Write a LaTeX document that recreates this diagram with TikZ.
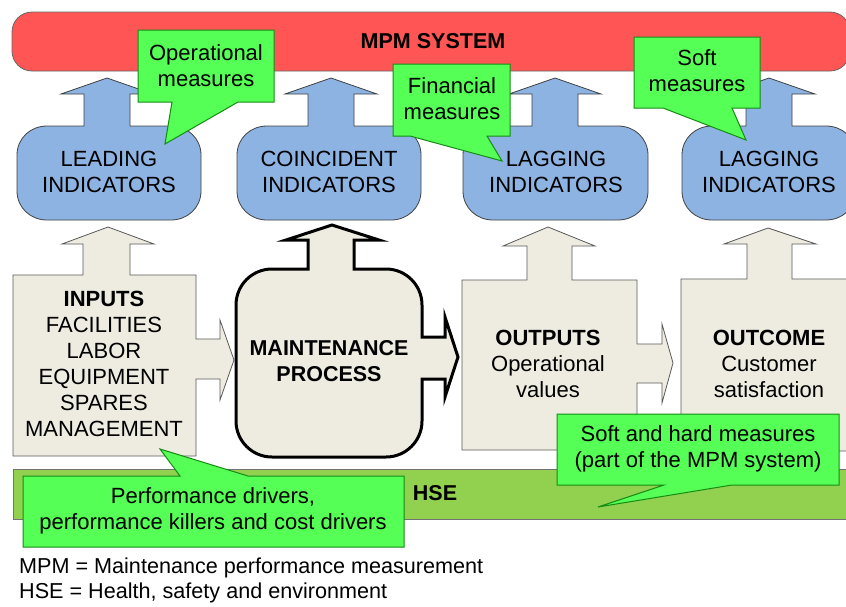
\documentclass[tikz,border=0pt]{standalone}
\usepackage{fontspec}
\setmainfont{Liberation Sans}
\usetikzlibrary{calc}

\definecolor{mpmred}{RGB}{255,85,85}
\definecolor{indicblue}{RGB}{141,179,226}
\definecolor{tanfill}{RGB}{238,236,225}
\definecolor{hsegreen}{RGB}{146,208,80}
\definecolor{notegreen}{RGB}{85,255,85}
\definecolor{noteline}{RGB}{20,140,20}

% indicator cloud with its arrow up to the MPM system
% #1 left, #2 right, #3 centre of the arrow
\newcommand{\indicatorshape}[3]{%
  \path[indic_shape] (#1,155) -- (#1,191)
    .. controls (#1,207.6) and (#1+13.4,220) .. (#1+30,220)
    -- (#2-30,220) .. controls (#2-13.4,220) and (#2,207.6) .. (#2,191)
    -- (#2,155) .. controls (#2,138.4) and (#2-13.4,126) .. (#2-30,126)
    -- (#3+23,126) -- (#3+23,94) -- (#3+46,94) -- (#3,78)
    -- (#3-46,94) -- (#3-23,94) -- (#3-23,126)
    -- (#1+30,126) .. controls (#1+13.4,126) and (#1,138.4) .. (#1,155) -- cycle;}

\begin{document}
\begin{tikzpicture}[x=1pt,y=-1pt,
    indic_shape/.style ={draw=black!75, fill=indicblue, line width=0.8pt},
    tan_shape/.style ={draw=black!65, fill=tanfill, line width=0.8pt},
    process_shape/.style ={draw=black, fill=tanfill, line width=3pt},
    bar_red/.style ={draw=black!60, fill=mpmred, line width=0.8pt, rounded corners=20pt},
    bar_green/.style ={draw=black!55, fill=hsegreen, line width=0.8pt},
    note_shape/.style ={draw=noteline, fill=notegreen, line width=1pt},
    block_text/.style ={align=center, inner sep=0pt,
      font=\fontsize{22}{26}\selectfont},
    block_bold/.style ={block_text, font=\fontsize{21.5}{26}\selectfont\bfseries},
    legend_text/.style ={anchor=west, inner sep=0pt,
      font=\fontsize{21.6}{25}\selectfont}]
    \useasboundingbox (0,0) rectangle (846,606);
    \clip (0,0) rectangle (846,606);

    % top and bottom bars
    \path[bar_red] (12,12) rectangle (850,71);
    \path[bar_green] (13,469) rectangle (860,519);

    % indicators
    \indicatorshape{17}{201}{107}
    \indicatorshape{237}{421}{331}
    \indicatorshape{463}{648}{555}
    \indicatorshape{682}{856}{769}

    % inputs, process, outputs, outcome
    \path[tan_shape] (13,275) -- (83,275) -- (83,244) -- (62,244) -- (108,227)
      -- (154,244) -- (130,244) -- (130,275) -- (196,275) -- (196,339)
      -- (220,339) -- (220,320) -- (234,360) -- (220,400) -- (220,379)
      -- (196,379) -- (196,456) -- (13,456) -- cycle;
    \path[process_shape] (236,305) -- (236,421)
      .. controls (236,440.9) and (252.1,457) .. (272,457) -- (386,457)
      .. controls (405.9,457) and (422,440.9) .. (422,421) -- (422,379)
      -- (445,379) -- (445,397) -- (458,357) -- (445,317) -- (445,337)
      -- (422,337) -- (422,305)
      .. controls (422,285.1) and (405.9,269) .. (386,269) -- (354,269)
      -- (354,240) -- (379,240) -- (332,225) -- (286,240) -- (308,240)
      -- (308,269) -- (272,269)
      .. controls (252.1,269) and (236,285.1) .. (236,305) -- cycle;
    \path[tan_shape] (462,280) -- (527,280) -- (527,246) -- (503,246) -- (548,227)
      -- (595,246) -- (572,246) -- (572,280) -- (637,280) -- (637,344)
      -- (662,344) -- (662,324) -- (673,363) -- (662,403) -- (662,383)
      -- (637,383) -- (637,450) -- (462,450) -- cycle;
    \path[tan_shape] (681,279) -- (747,279) -- (747,244) -- (724,244) -- (768,228)
      -- (816,244) -- (792,244) -- (792,279) -- (860,279) -- (860,451)
      -- (681,451) -- cycle;

    % texts
    \node[block_bold] (mpm_system) at (433,41) {MPM SYSTEM};
    \node[block_bold] (hse) at (435,493) {HSE};
    \node[block_text] (leading) at (109,172) {LEADING\\INDICATORS};
    \node[block_text] (coincident) at (329,172) {COINCIDENT\\INDICATORS};
    \node[block_text] (lagging_fin) at (556,172) {LAGGING\\INDICATORS};
    \node[block_text] (lagging_soft) at (769,172) {LAGGING\\INDICATORS};
    \node[block_text] (inputs) at (104,364) {\textbf{INPUTS}\\FACILITIES\\LABOR\\EQUIPMENT\\SPARES\\MANAGEMENT};
    \node[block_bold] (maintenance) at (329,361) {MAINTENANCE\\PROCESS};
    \node[block_text] (outputs) at (548,364) {\textbf{OUTPUTS}\\Operational\\values};
    \node[block_text] (outcome) at (769,364) {\textbf{OUTCOME}\\Customer\\satisfaction};

    % callouts
    \path[note_shape] (138,30) -- (274,30) -- (274,102) -- (238,102) -- (165,144)
      -- (172,102) -- (138,102) -- cycle;
    \node[block_text] (note_operational) at (206,66) {Operational\\measures};
    \path[note_shape] (393,64) -- (510,64) -- (510,136) -- (487,136) -- (502,161)
      -- (410,136) -- (393,136) -- cycle;
    \node[block_text] (note_financial) at (452,99) {Financial\\measures};
    \path[note_shape] (634,37) -- (760,37) -- (760,108) -- (732,108) -- (746,140)
      -- (663,108) -- (634,108) -- cycle;
    \node[block_text] (note_soft) at (697,71) {Soft\\measures};
    \path[note_shape] (23,476) -- (180,476) -- (160,449) -- (248,476) -- (404,476)
      -- (404,547) -- (23,547) -- cycle;
    \node[block_text] (note_drivers) at (213,511) {Performance drivers,\\performance killers and cost drivers};
    \path[note_shape] (557,414) -- (839,414) -- (839,485) -- (732,485) -- (598,507)
      -- (664,485) -- (557,485) -- cycle;
    \node[block_text] (note_measures) at (698,449) {Soft and hard measures\\(part of the MPM system)};

    % legend
    \node[legend_text] (legend_mpm) at (19,568) {MPM = Maintenance performance measurement};
    \node[legend_text] (legend_hse) at (19,593) {HSE = Health, safety and environment};
  \end{tikzpicture}
\end{document}
